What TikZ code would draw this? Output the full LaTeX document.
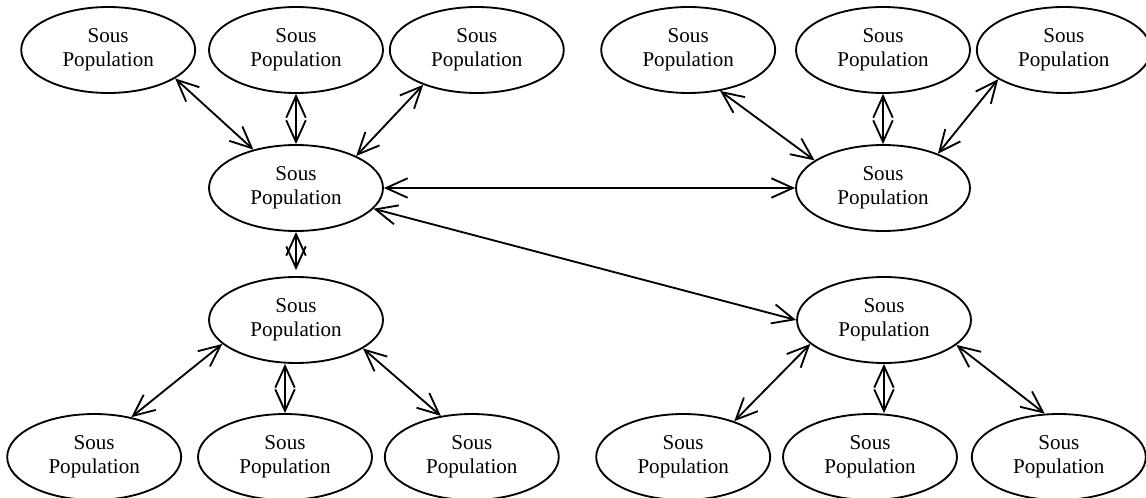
\documentclass[tikz,border=0pt]{standalone}
\usepackage{fontspec}
\setmainfont{Liberation Serif}
\usetikzlibrary{arrows.meta,positioning,shapes.geometric}
\tikzset{
  popbox/.style={draw, ellipse, line width=1.05pt, inner sep=0pt,
    minimum width=3.48cm, minimum height=1.72cm, align=center,
    font=\fontsize{12}{13.8}\selectfont},
  link/.style={{Straight Barb[length=4.3mm, width=3.9mm]}-{Straight Barb[length=4.3mm, width=3.9mm]}, line width=1.05pt}
}

\begin{document}
\begin{tikzpicture}[x=0.02cm, y=-0.02cm]
\useasboundingbox (0,0) rectangle (1146,497);

\node[popbox] (top2) at (296,50) {Sous\\Population};
\node[popbox, left=2.4mm of top2] (top1) {Sous\\Population};
\node[popbox, right=1mm of top2] (top3) {Sous\\Population};
\node[popbox] (top5) at (883,50) {Sous\\Population};
\node[popbox, left=3.8mm of top5] (top4) {Sous\\Population};
\node[popbox, right=1mm of top5] (top6) {Sous\\Population};

\node[popbox] (hub1) at (296,188) {Sous\\Population};
\node[popbox] (hub2) at (883,188) {Sous\\Population};
\node[popbox] (hub3) at (296,320) {Sous\\Population};
\node[popbox] (hub4) at (884,320) {Sous\\Population};

\node[popbox] (bot2) at (285,457) {Sous\\Population};
\node[popbox, left=3mm of bot2] (bot1) {Sous\\Population};
\node[popbox, right=2.2mm of bot2] (bot3) {Sous\\Population};
\node[popbox] (bot5) at (870,457) {Sous\\Population};
\node[popbox, left=2.2mm of bot5] (bot4) {Sous\\Population};
\node[popbox, right=2.6mm of bot5] (bot6) {Sous\\Population};

\draw[link] (top1.-23) -- (hub1.138);
\draw[link] (top2.south) -- (hub1.north);
\draw[link] (top3.213) -- (hub1.28);
\draw[link, shorten >=1.2mm] (hub1.south) -- (hub3.north);
\draw[link] (hub1.east) -- (hub2.west);
\draw[link] (hub1.-15) -- (hub4.west);

\draw[link] (top4.-52) -- (hub2.158);
\draw[link] (top5.south) -- (hub2.north);
\draw[link] (top6.204) -- (hub2.32);

\draw[link] (hub3.198) -- (bot1.47);
\draw[link] (bot2.north |- hub3.south) -- (bot2.north);
\draw[link] (hub3.-23) -- (bot3.127);

\draw[link] (hub4.198) -- (bot4.35);
\draw[link] (hub4.south) -- (hub4.south |- bot5.north);
\draw[link] (hub4.-19) -- (bot6.108);
\end{tikzpicture}
\end{document}
